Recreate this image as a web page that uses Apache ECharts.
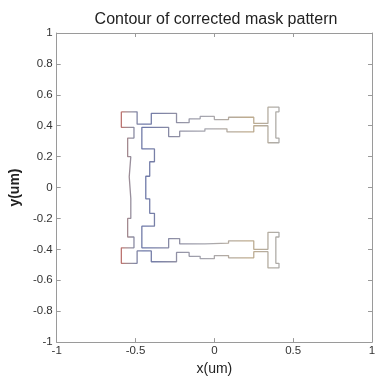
<!DOCTYPE html>
<html>
<head>
<meta charset="utf-8">
<script src="https://cdn.jsdelivr.net/npm/echarts@6/dist/echarts.min.js"></script>
<style>
  html, body { margin: 0; padding: 0; background: #fff; }
  #chart { width: 380px; height: 381px; }
</style>
</head>
<body>
<div id="chart"></div>
<script>
// Axis ticks (um)
const xTicks = [-1, -0.5, 0, 0.5, 1];
const yTicks = [-1, -0.8, -0.6, -0.4, -0.2, 0, 0.2, 0.4, 0.6, 0.8, 1];

// Contour vertices [x, y] in um, traced clockwise.
// Upper half: outer top edge, top serif, inner edge of top bar, inner left arm.
const upperContour = [
  [-0.59, 0.49], [-0.49, 0.49], [-0.49, 0.41], [-0.40, 0.41], [-0.40, 0.48],
  [-0.24, 0.48], [-0.24, 0.42], [-0.16, 0.42], [-0.16, 0.445], [-0.09, 0.445],
  [-0.09, 0.46], [0.00, 0.46], [0.00, 0.44], [0.09, 0.44], [0.09, 0.455],
  [0.25, 0.455], [0.25, 0.415], [0.34, 0.415], [0.34, 0.52], [0.41, 0.52],
  [0.41, 0.49], [0.39, 0.49], [0.39, 0.32], [0.41, 0.32], [0.41, 0.29],
  [0.34, 0.29], [0.34, 0.40], [0.25, 0.40], [0.25, 0.36], [0.08, 0.36],
  [0.08, 0.38], [-0.06, 0.38], [-0.06, 0.365], [-0.22, 0.365], [-0.22, 0.33],
  [-0.29, 0.33], [-0.29, 0.39], [-0.46, 0.39], [-0.46, 0.25], [-0.38, 0.25],
  [-0.38, 0.167], [-0.41, 0.167], [-0.41, 0.073], [-0.435, 0.073]
];
// Lower half: inner left arm, inner edge of bottom bar, bottom serif, outer bottom edge.
const lowerContour = [
  [-0.435, -0.073], [-0.41, -0.073], [-0.41, -0.167], [-0.38, -0.167], [-0.38, -0.25],
  [-0.46, -0.25], [-0.46, -0.39], [-0.29, -0.39], [-0.29, -0.33], [-0.22, -0.33],
  [-0.22, -0.365], [-0.06, -0.365], [-0.06, -0.36], [0.09, -0.36], [0.09, -0.345],
  [0.25, -0.345], [0.25, -0.40], [0.34, -0.40], [0.34, -0.29], [0.41, -0.29],
  [0.41, -0.32], [0.39, -0.32], [0.39, -0.49], [0.41, -0.49], [0.41, -0.52],
  [0.34, -0.52], [0.34, -0.415], [0.25, -0.415], [0.25, -0.455], [0.09, -0.455],
  [0.09, -0.44], [0.00, -0.44], [0.00, -0.46], [-0.09, -0.46], [-0.09, -0.445],
  [-0.16, -0.445], [-0.16, -0.42], [-0.24, -0.42], [-0.24, -0.48], [-0.40, -0.48],
  [-0.40, -0.41], [-0.49, -0.41], [-0.49, -0.49], [-0.59, -0.49]
];
// Outer left arm, running back up to the start point.
const leftArmOuter = [
  [-0.59, -0.39], [-0.51, -0.39], [-0.51, -0.32], [-0.55, -0.32], [-0.55, -0.20],
  [-0.53, -0.20], [-0.53, -0.07], [-0.54, -0.07], [-0.54, 0.07], [-0.53, 0.07],
  [-0.53, 0.20], [-0.55, 0.20], [-0.55, 0.32], [-0.51, 0.32], [-0.51, 0.39],
  [-0.59, 0.39], [-0.59, 0.49]
];

const contour = upperContour.concat(lowerContour, leftArmOuter);

const chart = echarts.init(document.getElementById('chart'), null, { renderer: 'canvas' });

const fontFamily = 'Liberation Sans, Arial, sans-serif';
const axisColor = '#9a9a9a';
const labelStyle = { color: '#333', fontFamily: fontFamily, fontSize: 11.5 };

// Contour level colours blend from warm on the outer left edge, through blue
// on the inner arm, to grey and tan towards the serifs.
const lineGradient = new echarts.graphic.LinearGradient(0, 0, 1, 0, [
  { offset: 0.00, color: '#c4605a' },
  { offset: 0.04, color: '#a88080' },
  { offset: 0.08, color: '#8c8a9c' },
  { offset: 0.15, color: '#6470a4' },
  { offset: 0.35, color: '#8a8aa0' },
  { offset: 0.55, color: '#a4a4ac' },
  { offset: 0.80, color: '#bca888' },
  { offset: 1.00, color: '#a8a8a8' }
]);

chart.setOption({
  animation: false,
  backgroundColor: '#fff',
  title: {
    text: 'Contour of corrected mask pattern',
    left: 211, top: 7, textAlign: 'center',
    textStyle: { color: '#222', fontFamily: fontFamily, fontSize: 16, fontWeight: 'normal' }
  },
  grid: { left: 51, right: 8, top: 33, bottom: 31 },
  xAxis: [
    {
      type: 'value', position: 'bottom', min: xTicks[0], max: xTicks[xTicks.length - 1], interval: 0.5,
      axisLine: { show: true, onZero: false, lineStyle: { color: axisColor, width: 1 } },
      axisTick: { show: true, inside: true, length: 4, lineStyle: { color: axisColor } },
      axisLabel: Object.assign({ margin: 3 }, labelStyle),
      splitLine: { show: false },
      name: 'x(um)', nameLocation: 'middle', nameGap: 16,
      nameTextStyle: { color: '#222', fontFamily: fontFamily, fontSize: 14 }
    },
    {
      type: 'value', position: 'top', min: -1, max: 1, interval: 0.5,
      axisLine: { show: true, onZero: false, lineStyle: { color: axisColor, width: 1 } },
      axisTick: { show: true, inside: true, length: 4, lineStyle: { color: axisColor } },
      axisLabel: { show: false }, splitLine: { show: false }
    }
  ],
  yAxis: [
    {
      type: 'value', position: 'left', min: yTicks[0], max: yTicks[yTicks.length - 1], interval: 0.2,
      axisLine: { show: true, onZero: false, lineStyle: { color: axisColor, width: 1 } },
      axisTick: { show: true, inside: true, length: 4, lineStyle: { color: axisColor } },
      axisLabel: Object.assign({ margin: 4 }, labelStyle),
      splitLine: { show: false },
      name: 'y(um)', nameLocation: 'middle', nameGap: 32, nameRotate: 90,
      nameTextStyle: { color: '#222', fontFamily: fontFamily, fontSize: 14, fontWeight: 'bold' }
    },
    {
      type: 'value', position: 'right', min: -1, max: 1, interval: 0.2,
      axisLine: { show: true, onZero: false, lineStyle: { color: axisColor, width: 1 } },
      axisTick: { show: true, inside: true, length: 4, lineStyle: { color: axisColor } },
      axisLabel: { show: false }, splitLine: { show: false }
    }
  ],
  series: [
    {
      type: 'line', xAxisIndex: 0, yAxisIndex: 0,
      data: contour, showSymbol: false, symbol: 'none', smooth: false,
      lineStyle: { color: lineGradient, width: 1.3, opacity: 0.95 },
      silent: true
    }
  ]
});
</script>
</body>
</html>
